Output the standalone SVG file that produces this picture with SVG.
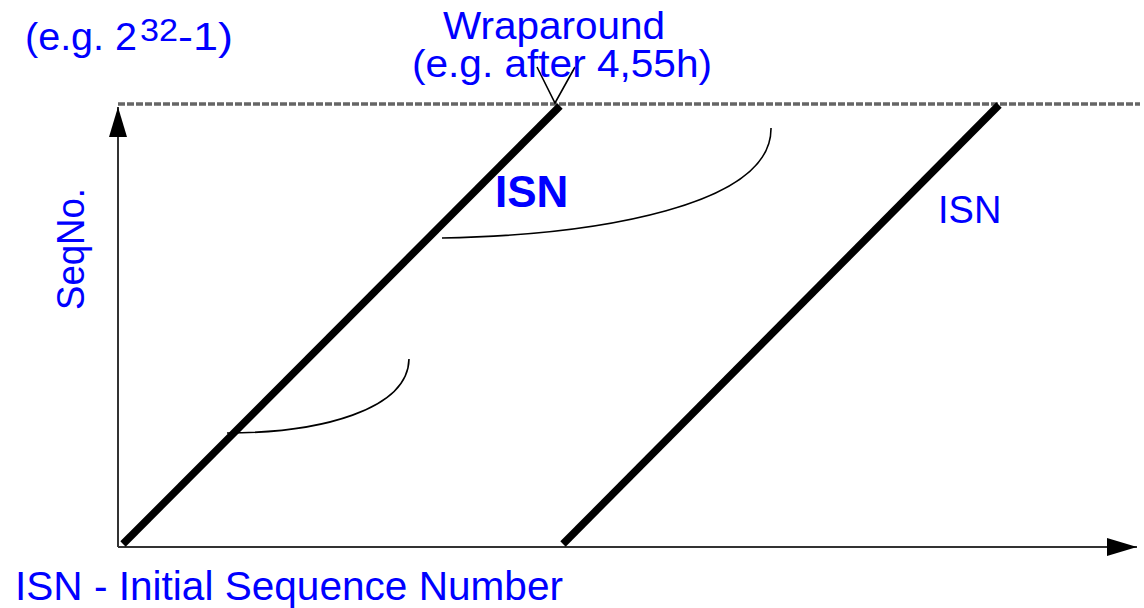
<svg xmlns="http://www.w3.org/2000/svg" width="1144" height="608" viewBox="0 0 1144 608">
<defs>
<style>
.lbl{font-family:"Liberation Sans",Arial,sans-serif;fill:#0000ff;}
.axis{stroke:#333;stroke-width:2;fill:none;}
.thick{stroke:#000;stroke-width:7.5;fill:none;}
.thin{stroke:#000;stroke-width:1.6;fill:none;}
</style>
<marker id="arr" viewBox="0 0 30 18" refX="30" refY="9" markerWidth="30" markerHeight="18" markerUnits="userSpaceOnUse" orient="auto">
<path d="M0,0 L30,9 L0,18 Z" fill="#000"/>
</marker>
</defs>
<rect width="1144" height="608" fill="#fff"/>
<g id="connectors">
<line x1="118" y1="104" x2="1140" y2="104" stroke="#666" stroke-width="3.5" stroke-dasharray="7,2"/>
<line class="axis" x1="118" y1="547" x2="118" y2="107" marker-end="url(#arr)"/>
<line class="axis" x1="118" y1="547" x2="1137" y2="547" marker-end="url(#arr)"/>
<line class="thick" x1="123" y1="544" x2="560" y2="106"/>
<line class="thick" x1="563" y1="544" x2="999" y2="105"/>
<polyline class="thin" points="537,67 555,103 575,67"/>
<path class="thin" d="M442,238 C600,235 772,205 771,128"/>
<path class="thin" d="M227,433 C320,433 408,410 409,359"/>
</g>
<g id="max-label">
<text class="lbl" x="25" y="50" font-size="38" textLength="112" lengthAdjust="spacingAndGlyphs">(e.g. 2</text>
<text class="lbl" x="140" y="41" font-size="32" textLength="38" lengthAdjust="spacingAndGlyphs">32</text>
<text class="lbl" x="178" y="50" font-size="38" textLength="55" lengthAdjust="spacingAndGlyphs">-1)</text>
</g>
<g id="wraparound">
<text class="lbl" x="443" y="39" font-size="38" textLength="222" lengthAdjust="spacingAndGlyphs">Wraparound</text>
<text class="lbl" x="412" y="77" font-size="38" textLength="300" lengthAdjust="spacingAndGlyphs">(e.g. after 4,55h)</text>
</g>
<g id="seqno">
<text class="lbl" transform="translate(84,310) rotate(-90)" x="0" y="0" font-size="38" textLength="122" lengthAdjust="spacingAndGlyphs">SeqNo.</text>
</g>
<g id="isn-bold">
<text class="lbl" x="495" y="207" font-size="44" font-weight="bold">ISN</text>
</g>
<g id="isn-right">
<text class="lbl" x="938" y="223" font-size="38">ISN</text>
</g>
<g id="legend">
<text class="lbl" x="15" y="600" font-size="41" textLength="548" lengthAdjust="spacingAndGlyphs">ISN - Initial Sequence Number</text>
</g>
</svg>
